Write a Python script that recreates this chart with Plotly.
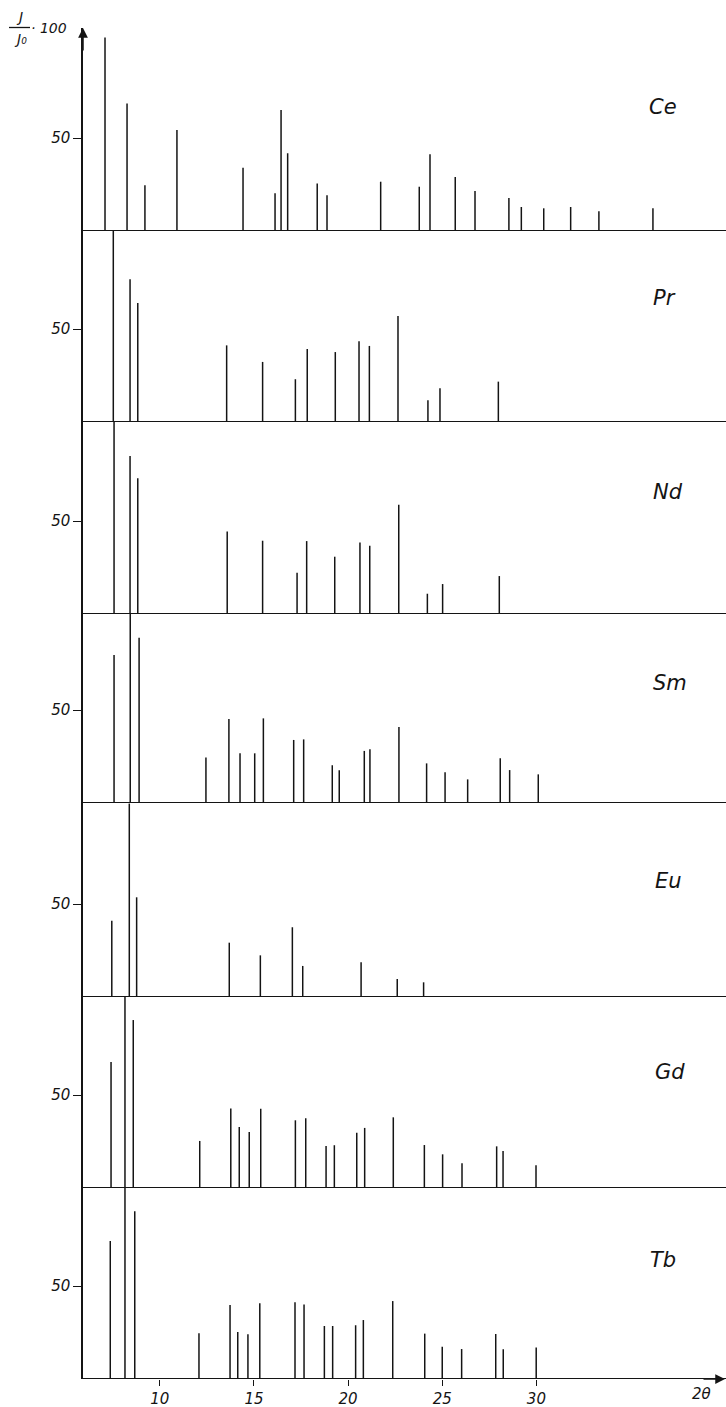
import plotly.graph_objects as go

# ---------------- data: 2-theta positions and relative intensities (I/I0*100) ----------------
elements = ["Ce", "Pr", "Nd", "Sm", "Eu", "Gd", "Tb"]

ce_pos = [7.09, 8.26, 9.21, 10.91, 14.42, 16.12, 16.44, 16.79, 18.36, 18.88, 21.73, 23.78,
          24.35, 25.69, 26.74, 28.54, 29.20, 30.39, 31.82, 33.32, 36.19]
ce_int = [104, 68.6, 24.6, 54.3, 34, 20.3, 65, 41.8, 25.6, 19.2, 26.5, 23.8,
          41.2, 29, 21.5, 17.7, 12.9, 12.2, 12.9, 10.6, 12.2]

pr_pos = [7.53, 8.42, 8.83, 13.55, 15.46, 17.20, 17.83, 19.32, 20.58, 21.13, 22.65, 24.24, 24.88, 27.98]
pr_int = [104, 76.7, 64, 41.2, 32.3, 23, 39.2, 37.6, 43.4, 40.9, 57, 11.7, 18.1, 21.7]

nd_pos = [7.57, 8.42, 8.83, 13.58, 15.46, 17.29, 17.80, 19.29, 20.63, 21.15, 22.69, 24.21, 25.02, 28.03]
nd_int = [104, 84.9, 73, 44.3, 39.4, 22.2, 39.2, 30.8, 38.5, 36.7, 58.8, 10.9, 16.1, 20.4]

sm_pos = [7.57, 8.43, 8.90, 12.45, 13.67, 14.26, 15.04, 15.50, 17.11, 17.64, 19.16, 19.53,
          20.86, 21.16, 22.70, 24.17, 25.15, 26.35, 28.08, 28.58, 30.10]
sm_int = [79.6, 104, 88.9, 24.4, 45.2, 26.7, 26.7, 45.5, 33.9, 34.2, 20.3, 17.6,
          28, 28.9, 40.9, 21.3, 16.5, 12.7, 24, 17.7, 15.4]

eu_pos = [7.45, 8.38, 8.77, 13.69, 15.34, 17.04, 17.59, 20.69, 22.61, 24.01]
eu_int = [41, 104, 53.6, 29.2, 22.4, 37.5, 16.7, 18.7, 9.7, 7.9]

gd_pos = [7.41, 8.15, 8.59, 12.12, 13.77, 14.22, 14.75, 15.36, 17.20, 17.75, 18.83, 19.27,
          20.46, 20.88, 22.40, 24.05, 25.02, 26.05, 27.89, 28.23, 29.98]
gd_int = [67.7, 104, 90.3, 25.3, 42.8, 32.8, 30.1, 42.6, 36.4, 37.5, 22.6, 23,
          29.7, 32.3, 38, 23.1, 18.1, 13.3, 22.4, 19.9, 12.2]

tb_pos = [7.37, 8.15, 8.67, 12.08, 13.73, 14.14, 14.68, 15.31, 17.18, 17.66, 18.74, 19.18,
          20.40, 20.81, 22.37, 24.07, 25.00, 26.03, 27.84, 28.24, 29.99]
tb_int = [74.2, 104, 90.2, 24.6, 39.8, 25.3, 24, 40.7, 41.2, 40, 28.5, 28.5,
          28.9, 31.7, 41.9, 24.4, 17.4, 16.1, 24.2, 16, 17]

positions = [ce_pos, pr_pos, nd_pos, sm_pos, eu_pos, gd_pos, tb_pos]
intensities = [ce_int, pr_int, nd_int, sm_int, eu_int, gd_int, tb_int]

x_ticks = [10, 15, 20, 25, 30]
y_tick = 50

# ---------------- layout geometry (pixels) ----------------
W, H = 726, 1407
L, R, T, B = 83, 0, 28, 28
PH = H - T - B
PW = W - L - R
baselines_px = [231, 422, 614, 803, 997, 1188, 1379]
tops_px = [28, 231, 422, 614, 803, 997, 1188]
PX_PER_PCT = 1.86
label_px = [(663, 107), (664, 298), (668, 492), (670, 683), (668, 881), (670, 1072), (663, 1260)]

def px_x(px):
    return (px - L) / PW

def px_y(py):
    return (H - B - py) / PH

INK = "#141414"
FONT = "DejaVu Sans"

fig = go.Figure()
layout = dict(
    width=W, height=H,
    margin=dict(l=L, r=R, t=T, b=B),
    paper_bgcolor="white", plot_bgcolor="white",
    showlegend=False,
    xaxis=dict(
        range=[5.921, 40.07], anchor="y7", showline=False, showgrid=False, zeroline=False,
        tickvals=x_ticks, ticktext=[str(v) for v in x_ticks],
        ticks="outside", ticklen=6, tickwidth=1.4, tickcolor=INK,
        tickfont=dict(family=FONT, size=15, color=INK, style="italic"),
    ),
)

shapes = []
annotations = []
for i, (el, pos, inten) in enumerate(zip(elements, positions, intensities)):
    n = i + 1
    yname = "y" if n == 1 else f"y{n}"
    axkey = "yaxis" if n == 1 else f"yaxis{n}"
    xs, ys = [], []
    for p, v in zip(pos, inten):
        xs += [p, p, None]
        ys += [0, v, None]
    fig.add_trace(go.Scatter(x=xs, y=ys, mode="lines", xaxis="x", yaxis=yname,
                             line=dict(color=INK, width=1.5), hoverinfo="skip"))
    top_val = (baselines_px[i] - tops_px[i]) / PX_PER_PCT
    layout[axkey] = dict(
        domain=[px_y(baselines_px[i]), px_y(tops_px[i])],
        range=[0, top_val], anchor="x",
        showline=True, linewidth=1.5, linecolor=INK,
        showgrid=False, zeroline=False,
        tickvals=[y_tick], ticktext=[str(y_tick)],
        ticks="outside", ticklen=8, tickwidth=1.4, tickcolor=INK,
        tickfont=dict(family=FONT, size=15, color=INK, style="italic"),
    )
    shapes.append(dict(type="line", xref="paper", x0=0, x1=1, yref=yname, y0=0, y1=0,
                       line=dict(color=INK, width=1.8)))
    lx, ly = label_px[i]
    annotations.append(dict(text=el, x=px_x(lx), y=px_y(ly), xref="paper", yref="paper",
                            showarrow=False, xanchor="center", yanchor="middle",
                            font=dict(family=FONT, size=21, color=INK, style="italic")))

# axis arrows
annotations.append(dict(x=0, y=1, xref="paper", yref="paper", ax=0, ay=24, text="",
                        showarrow=True, arrowhead=2, arrowsize=1.3, arrowwidth=1.5, arrowcolor=INK))
annotations.append(dict(x=1, y=0, xref="paper", yref="paper", ax=-24, ay=0, text="",
                        showarrow=True, arrowhead=2, arrowsize=1.3, arrowwidth=1.5, arrowcolor=INK))
# 2-theta label
annotations.append(dict(text="2θ", x=px_x(701), y=px_y(1394), xref="paper", yref="paper",
                        showarrow=False, xanchor="center", yanchor="middle",
                        font=dict(family=FONT, size=15, color=INK, style="italic")))
# I/I0 * 100 label
annotations.append(dict(text="J", x=px_x(19), y=px_y(17), xref="paper", yref="paper",
                        showarrow=False, xanchor="center", yanchor="middle",
                        font=dict(family=FONT, size=14, color=INK, style="italic")))
annotations.append(dict(text="J₀", x=px_x(20), y=px_y(39), xref="paper", yref="paper",
                        showarrow=False, xanchor="center", yanchor="middle",
                        font=dict(family=FONT, size=14, color=INK, style="italic")))
shapes.append(dict(type="line", xref="paper", yref="paper", x0=px_x(9), x1=px_x(30),
                   y0=px_y(27.5), y1=px_y(27.5), line=dict(color=INK, width=1.3)))
annotations.append(dict(text="· 100", x=px_x(49), y=px_y(28), xref="paper", yref="paper",
                        showarrow=False, xanchor="center", yanchor="middle",
                        font=dict(family=FONT, size=14, color=INK, style="italic")))

layout["shapes"] = shapes
layout["annotations"] = annotations
fig.update_layout(**layout)

fig.write_html("out.html", config={"displayModeBar": False},
               post_script="document.body.style.margin='0';document.body.style.padding='0';")
